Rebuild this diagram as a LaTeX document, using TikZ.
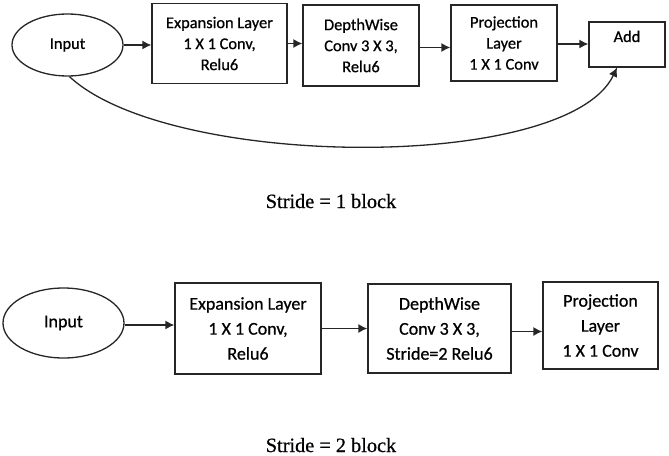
\documentclass[tikz,border=0pt]{standalone}
\usepackage{fontspec}
\setmainfont{Carlito}
\newfontfamily\boxfont{Carlito}[FakeBold=0.7]
\newfontfamily\capfont{Liberation Serif}[FakeBold=0.6]
\usetikzlibrary{shapes.geometric,arrows.meta}
\tikzset{
  lw/.style={line width=1.3pt, draw=black!85},
  ell/.style={lw, ellipse, inner sep=0pt},
  boxnode/.style={lw, rectangle, inner sep=0pt, align=center},
  topfont/.style={font=\boxfont\fontsize{16.4}{21}\selectfont},
  botfont/.style={font=\boxfont\fontsize{18}{25}\selectfont},
  arr/.style={lw, -{Latex[length=9pt,width=9pt]}},
  captxt/.style={font=\capfont\fontsize{20.3}{24}\selectfont, anchor=base, inner sep=0pt}
}
\begin{document}
\begin{tikzpicture}[x=1pt,y=-1pt]
\useasboundingbox (0,0) rectangle (669,455);
% top row
\node[ell, topfont, minimum width=111pt, minimum height=62pt] (in1) at (67.5,45) {Input};
\node[boxnode, topfont, minimum width=135pt, minimum height=80pt] (exp1) at (219.5,43.5) {Expansion Layer\\1 X 1 Conv,\\Relu6};
\node[boxnode, topfont, minimum width=116pt, minimum height=81pt] (dw1) at (361,45.5) {DepthWise\\Conv 3 X 3,\\Relu6};
\node[boxnode, topfont, minimum width=106pt, minimum height=76pt] (pr1) at (504,43) {Projection\\Layer\\1 X 1 Conv};
\node[boxnode, topfont, minimum width=76pt, minimum height=45pt, text height=10pt, text depth=15pt] (add) at (627,44.5) {Add};
\draw[arr] (in1.east) -- (in1.east -| exp1.west);
\draw[arr] (exp1.east) -- (exp1.east -| dw1.west);
\draw[arr] ([yshift=-2pt]dw1.east) -- ([yshift=-2pt]dw1.east -| pr1.west);
\draw[arr] ([yshift=-1pt]pr1.east) -- ([yshift=-1pt]pr1.east -| add.west);
\draw[arr] ([xshift=2pt]in1.south) .. controls +(100,93) and +(-50,105) .. ([xshift=-10pt]add.south);
\node[captxt] (cap1) at (331,208) {Stride = 1 block};
% bottom row
\node[ell, botfont, minimum width=121pt, minimum height=70pt] (in2) at (63.5,323) {Input};
\node[boxnode, botfont, minimum width=146pt, minimum height=91pt] (exp2) at (248,328.5) {Expansion Layer\\1 X 1 Conv,\\Relu6};
\node[boxnode, botfont, minimum width=143pt, minimum height=89pt] (dw2) at (439.5,328.5) {DepthWise\\Conv 3 X 3,\\Stride=2 Relu6};
\node[boxnode, botfont, minimum width=115pt, minimum height=87pt] (pr2) at (600.5,325.5) {Projection\\Layer\\1 X 1 Conv};
\draw[arr] ([yshift=-2pt]in2.east) -- ([yshift=-2pt]in2.east -| exp2.west);
\draw[arr] (exp2.east) -- (exp2.east -| dw2.west);
\draw[arr] ([yshift=-3pt]dw2.east) -- ([yshift=-3pt]dw2.east -| pr2.west);
\node[captxt] (cap2) at (331,452) {Stride = 2 block};
\end{tikzpicture}
\end{document}
